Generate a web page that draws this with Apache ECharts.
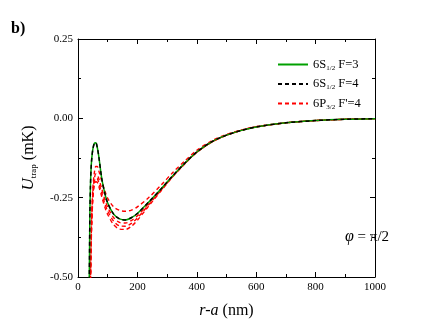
<!DOCTYPE html>
<html>
<head>
<meta charset="utf-8">
<script src="https://cdn.jsdelivr.net/npm/echarts@6/dist/echarts.min.js"></script>
<style>
  html, body { margin: 0; padding: 0; background: #fff; }
  #chart { width: 436px; height: 333px; }
</style>
</head>
<body>
<div id="chart"></div>
<script>
// distance r-a (nm), shared by every curve
const rNm = [36, 38, 40, 42, 44, 46, 50, 55, 60, 65, 70, 80, 90, 100, 120, 140, 160, 180, 200,
  240, 280, 320, 360, 400, 450, 500, 550, 600, 700, 800, 900, 1000];

// ground state, F=3 and F=4 (they overlap)
const uS3 = [-0.60, -0.50, -0.30, -0.21, -0.16, -0.13, -0.097, -0.079, -0.077, -0.092, -0.12, -0.19, -0.235, -0.267,
  -0.302, -0.317, -0.320, -0.313, -0.300, -0.262, -0.222, -0.180, -0.141, -0.106, -0.074, -0.053, -0.038, -0.027,
  -0.014, -0.007, -0.003, -0.001];
const uS4 = uS3.slice();

// excited state 6P3/2 F'=4, one curve per sublevel
const uP4a = [-0.75, -0.66, -0.58, -0.50, -0.39, -0.31, -0.22, -0.172, -0.152, -0.152, -0.165, -0.198, -0.228, -0.252,
  -0.279, -0.290, -0.293, -0.289, -0.279, -0.248, -0.210, -0.170, -0.134, -0.101, -0.071, -0.051, -0.037, -0.026,
  -0.014, -0.007, -0.003, -0.001];
const uP4b = [-0.78, -0.68, -0.60, -0.51, -0.40, -0.32, -0.235, -0.19, -0.175, -0.178, -0.19, -0.222, -0.255, -0.28,
  -0.313, -0.328, -0.330, -0.322, -0.307, -0.266, -0.224, -0.181, -0.142, -0.107, -0.075, -0.053, -0.038, -0.027,
  -0.014, -0.007, -0.003, -0.001];
const uP4c = [-0.80, -0.70, -0.61, -0.52, -0.41, -0.33, -0.245, -0.20, -0.188, -0.19, -0.203, -0.236, -0.268, -0.292,
  -0.324, -0.339, -0.340, -0.331, -0.314, -0.270, -0.226, -0.182, -0.142, -0.107, -0.075, -0.053, -0.038, -0.027,
  -0.014, -0.007, -0.003, -0.001];
const uP4d = [-0.82, -0.72, -0.62, -0.53, -0.42, -0.34, -0.255, -0.21, -0.20, -0.202, -0.214, -0.247, -0.279, -0.303,
  -0.335, -0.349, -0.350, -0.340, -0.321, -0.274, -0.228, -0.183, -0.143, -0.107, -0.075, -0.053, -0.038, -0.027,
  -0.014, -0.007, -0.003, -0.001];

const xTicks = [0, 200, 400, 600, 800, 1000];
const yTicks = [-0.50, -0.25, 0.00, 0.25];

const legendLabels = {
  S3: '6S{sub|1/2} F=3',
  S4: '6S{sub|1/2} F=4',
  P4: "6P{sub|3/2} F'=4"
};

const pairs = (ys) => rNm.map((r, i) => [r, ys[i]]);
const serif = 'Liberation Serif';

const chart = echarts.init(document.getElementById('chart'));

const tickCommon = {
  axisLine: { show: true, onZero: false, lineStyle: { color: '#000', width: 1 } },
  axisTick: { show: true, inside: true, length: 5, lineStyle: { color: '#000' } },
  minorTick: { show: true, splitNumber: 2, length: 3, lineStyle: { color: '#000' } },
  splitLine: { show: false }
};

const redSeries = [uP4a, uP4b, uP4c, uP4d].map(ys => ({
  name: 'P4',
  type: 'line',
  data: pairs(ys),
  smooth: 0.3,
  symbol: 'none',
  lineStyle: { color: '#ff0000', width: 1.4, type: [4, 3] },
  itemStyle: { color: '#ff0000' }
}));

const option = {
  animation: false,
  grid: { left: 78, right: 61, top: 39, bottom: 56 },
  legend: {
    data: ['S3', 'S4', 'P4'],
    orient: 'vertical',
    left: 272,
    top: 53,
    itemWidth: 30,
    itemHeight: 10,
    itemGap: 6,
    itemStyle: { opacity: 0 },
    formatter: name => legendLabels[name],
    textStyle: {
      fontFamily: serif, fontSize: 12.5, color: '#000',
      rich: { sub: { fontFamily: serif, fontSize: 7, padding: [7, 0, 0, 0], color: '#000' } }
    }
  },
  xAxis: [
    Object.assign({
      type: 'value', min: 0, max: 1000, interval: 200, position: 'bottom',
      name: '{i|r-a} (nm)', nameLocation: 'middle', nameGap: 26,
      nameTextStyle: { fontFamily: serif, fontSize: 16, color: '#000',
        rich: { i: { fontFamily: serif, fontStyle: 'italic', fontSize: 16, color: '#000' } } },
      axisLabel: { fontFamily: serif, fontSize: 11, color: '#000', margin: 5,
        formatter: v => xTicks.includes(v) ? String(v) : '' }
    }, tickCommon),
    Object.assign({
      type: 'value', min: 0, max: 1000, interval: 200, position: 'top',
      axisLabel: { show: false }
    }, tickCommon)
  ],
  yAxis: [
    Object.assign({
      type: 'value', min: -0.5, max: 0.25, interval: 0.25, position: 'left',
      name: '{i|U}{sub|trap} (mK)', nameLocation: 'middle', nameGap: 40,
      nameTextStyle: { fontFamily: serif, fontSize: 16, color: '#000',
        rich: {
          i: { fontFamily: serif, fontStyle: 'italic', fontSize: 17, color: '#000' },
          sub: { fontFamily: serif, fontSize: 9, padding: [9, 0, 0, 0], color: '#000' }
        } },
      axisLabel: { fontFamily: serif, fontSize: 11, color: '#000', margin: 5,
        formatter: v => yTicks.some(t => Math.abs(t - v) < 1e-9) ? v.toFixed(2) : '' }
    }, tickCommon),
    Object.assign({
      type: 'value', min: -0.5, max: 0.25, interval: 0.25, position: 'right',
      axisLabel: { show: false }
    }, tickCommon)
  ],
  graphic: [
    {
      type: 'text', left: 11, top: 21,
      style: { text: 'b)', font: 'bold 16px "Liberation Serif"', fill: '#000' }
    },
    {
      type: 'text', left: 345, top: 229,
      style: {
        text: '{i|φ} = π/2',
        font: '15px "Liberation Serif"', fill: '#000',
        rich: { i: { fontFamily: serif, fontStyle: 'italic', fontSize: 16, fill: '#000' } }
      }
    }
  ],
  series: redSeries.concat([
    {
      name: 'S3',
      type: 'line',
      data: pairs(uS3),
      smooth: 0.3,
      symbol: 'none',
      lineStyle: { color: '#00a000', width: 1.5, type: 'solid' },
      itemStyle: { color: '#00a000' }
    },
    {
      name: 'S4',
      type: 'line',
      data: pairs(uS4),
      smooth: 0.3,
      symbol: 'none',
      lineStyle: { color: '#000', width: 1.5, type: [4, 3] },
      itemStyle: { color: '#000' }
    }
  ])
};

chart.setOption(option);
</script>
</body>
</html>
